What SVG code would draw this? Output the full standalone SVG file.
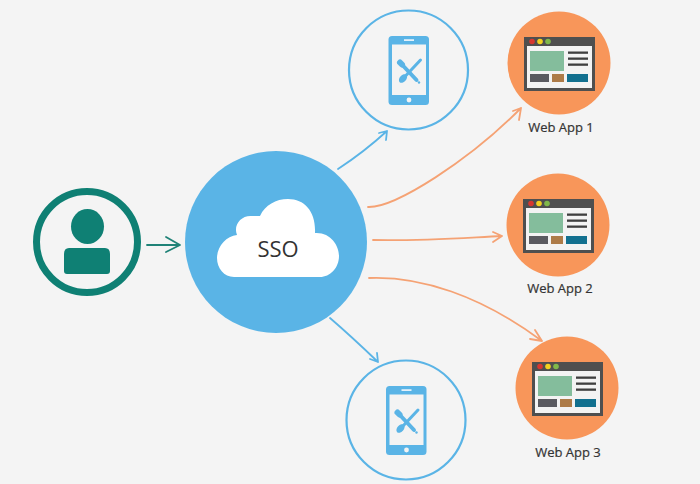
<svg xmlns="http://www.w3.org/2000/svg" width="700" height="484" viewBox="0 0 700 484">
<style>
.lbl{font-family:"Open Sans","Liberation Sans",sans-serif;font-size:13px;fill:#333;text-anchor:middle;stroke:#333;stroke-width:.2}
.ring{fill:none;stroke:#5ab4e6;stroke-width:2.2}
.blue{fill:#5ab4e6}
.ico{fill:none;stroke:#5ab4e6;stroke-linecap:round}
.o{fill:none;stroke:#f5a274;stroke-width:1.8;stroke-linecap:round;stroke-linejoin:round}
.b{fill:none;stroke:#5ab4e6;stroke-width:1.8;stroke-linecap:round;stroke-linejoin:round}
.t{fill:none;stroke:#1f8277;stroke-width:1.8;stroke-linecap:round;stroke-linejoin:round}
</style>
<defs>
<g id="app">
<circle cx="0" cy="0" r="51.500" fill="#f8965a"/>
<rect x="-35" y="-26" width="71" height="54" fill="#4f4f4f"/>
<rect x="-32" y="-17" width="65" height="42" fill="#f3f3f3"/>
<circle cx="-27" cy="-21.500" r="2.800" fill="#d7372f"/>
<circle cx="-19" cy="-21.500" r="2.800" fill="#f2d11f"/>
<circle cx="-11" cy="-21.500" r="2.800" fill="#80b84a"/>
<rect x="-29" y="-12" width="34" height="20" fill="#84bd9c"/>
<rect x="9" y="-11.500" width="20" height="2.300" fill="#3f3f3f"/>
<rect x="9" y="-5.500" width="20" height="2.300" fill="#3f3f3f"/>
<rect x="9" y="0.500" width="20" height="2.300" fill="#3f3f3f"/>
<rect x="-29" y="11" width="19" height="8" fill="#5a5a60"/>
<rect x="-7" y="11" width="12" height="8" fill="#ad7b48"/>
<rect x="8" y="11" width="21" height="8" fill="#12708f"/>
</g>
<g id="phone">
<circle cx="0" cy="0" r="59.500" class="ring"/>
<rect x="-20" y="-34" width="40.500" height="69" rx="3.500" class="blue"/>
<rect x="-16.500" y="-25.500" width="34" height="50.500" fill="#f3f3f3"/>
<rect x="-4.500" y="-30.800" width="10" height="1.800" fill="#e3f1fa"/>
<circle cx="0.500" cy="30" r="2.400" fill="#f3f3f3"/>
<path class="ico" stroke-width="4" d="M-8-7 8 10"/>
<path class="ico" stroke-width="6" d="M-8.500-7.500-6.500-5.500"/>
<circle cx="10.500" cy="12.500" r="1.200" class="blue"/>
<path class="ico" stroke-width="3" d="M12-10-3 6"/>
<ellipse cx="-5.500" cy="8.500" rx="3.200" ry="5" transform="rotate(42 -5.500 8.500)" class="blue"/>
</g>
</defs>
<rect width="700" height="484" fill="#f4f4f4"/>
<g id="connectors">
<path class="t" d="M147 245H179M166 237 180 245 166 252"/>
<path class="b" d="M338 169Q364 152 387 131M379 133 387 131 386 140"/>
<path class="b" d="M330 318Q352 337 378 362M377 353 378 362 370 359"/>
<path class="o" d="M368 207C395 208 470 160 521 108M513 111 521 108 519 120"/>
<path class="o" d="M373 240C420 241 460 238 502 236M493 232 502 236 493 242"/>
<path class="o" d="M369 278C420 276 480 295 542 341M535 330 542 341 530 339"/>
</g>
<g id="sso">
<circle cx="276" cy="242" r="91" class="blue"/>
<path d="M234 277C224 277 217 268 217 258 217 247 226 236 237 235 233 225 241 215 252 216 255 216 258 216 260 216 265 205 276 199 288 199 305 199 316 212 315 233 330 232 339 245 339 256 339 268 330 277 320 277Z" fill="#fff"/>
<text x="278" y="257" font-family="'Open Sans','Liberation Sans',sans-serif" font-size="22" fill="#333" text-anchor="middle">SSO</text>
</g>
<g id="user">
<circle cx="87" cy="242" r="50.500" fill="none" stroke="#0f8074" stroke-width="7"/>
<ellipse cx="87.500" cy="226.500" rx="16.500" ry="17.500" fill="#0f8074"/>
<path d="M69 248H105Q110 248 110 254V271Q110 274 107 274H67Q64 274 64 271V254Q64 248 69 248Z" fill="#0f8074"/>
</g>
<g id="phone1"><use href="#phone" x="408.500" y="70"/></g>
<g id="phone2"><use href="#phone" x="406" y="420"/></g>
<g id="app1"><use href="#app" x="559" y="63"/><text class="lbl" x="561" y="132">Web App 1</text></g>
<g id="app2"><use href="#app" x="558" y="225"/><text class="lbl" x="560" y="293">Web App 2</text></g>
<g id="app3"><use href="#app" x="567" y="388"/><text class="lbl" x="568" y="457">Web App 3</text></g>
</svg>
